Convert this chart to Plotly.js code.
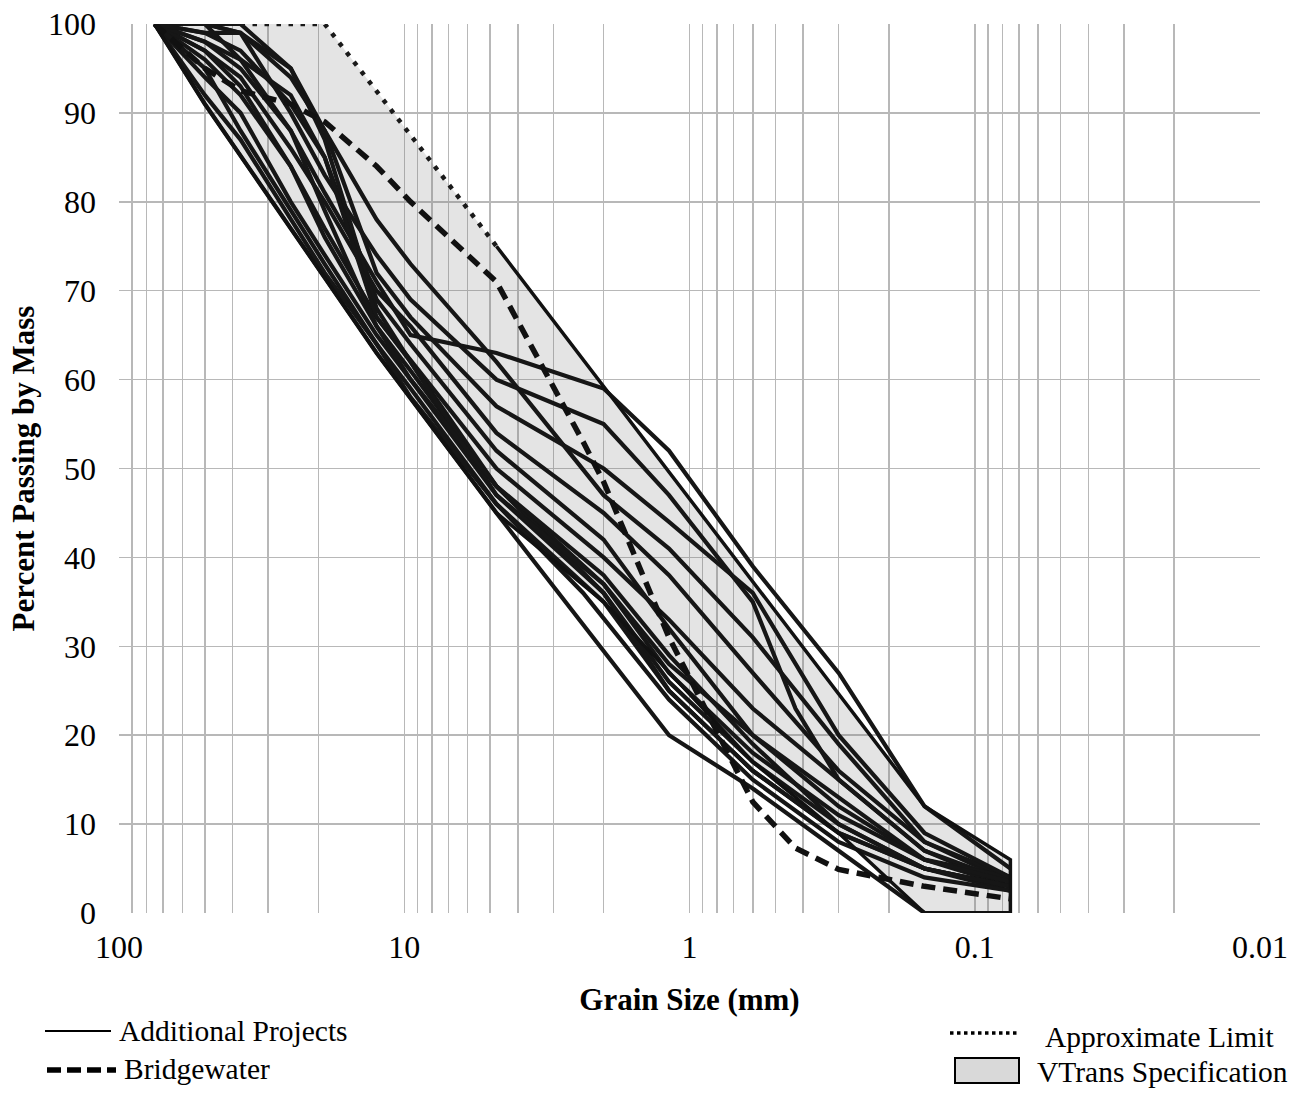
<!DOCTYPE html>
<html>
<head>
<meta charset="utf-8">
<script src="https://cdn.plot.ly/plotly-3.0.1.min.js"></script>
<style>
  html, body { margin: 0; padding: 0; background: #ffffff; }
  #chart { width: 1306px; height: 1095px; }
</style>
</head>
<body>
<div id="chart"></div>
<script>
// ---------------- DATA ----------------
// Sieve sizes (mm) used for the project gradations
const projSizes = [75, 50, 37.5, 25, 19, 12.5, 9.5, 4.75, 2.36, 2.0, 1.18, 0.85, 0.6, 0.425, 0.3, 0.15, 0.075];

// Percent passing for each additional project (null = sieve not reported)
const proj01 = [100, 91, null, null, null, 63, null, 45, null, null, 20, null, 14, null, 7, 0, 0];
const proj02 = [100, 98, 96, 88, 81, 71, 65, 63, null, 59, 52, null, 39, null, 27, 12, 5];
const proj03 = [100, 100, 100, 95, 88, 78, 73, 62, null, 47, 41, null, 31, null, 19, 8, 3.5];
const proj04 = [100, 100, 99, 90, 83, 74, 69, 60, null, 55, 47, null, 35, 23, 15, 7, 3];
const proj05 = [100, 97, 94, 86, 80, 70, 66, 54, null, 45, 38, null, 27, null, 16, 8, 4];
const proj06 = [100, 96, 92, 84, 77, 67, null, 50, null, 40, 33, null, 23, null, 15, 7, 3.5];
const proj07 = [100, 99, 97, 91, 85, 69, 64, 52, null, 42, 32, null, 20, null, 12, 6, 3];
const proj08 = [100, 94, 90, 80, 74, 65, 60, 47, null, 36, 26, null, 17, null, 10, 5, 3];
const proj09 = [100, 95, 88, 79, 73, 64, 59, 46, null, 35, 25, null, 16, null, 9, 5, 2.5];
const proj10 = [100, 97, 93, 84, 76, 66, 61, 48, null, 37, 27, null, 18, null, 11, 6, 4];
const proj11 = [100, 92, 87, 78, 72, 64, 58, 46, 36, null, 24, null, 15, null, 8, 4, 2.5];
const proj12 = [100, 100, 99, 95, 87, 68, 62, 48, null, 36, 25, null, 16, null, 9, 5, 3];
const proj13 = [100, 100, 96, 92, 85, 67, 62, 47, null, 37, 28, null, 20, null, 13, 6, 3.5];
const proj14 = [100, 98, 95, 88, 79, 66, 60, 48, null, 38, 29, null, 19, null, 10, 5, 3];
const proj15 = [100, 99, 99, 94, 88, 72, 67, 57, null, 50, 44, null, 36, null, 20, 9, 4];
const projects = [proj01, proj02, proj03, proj04, proj05, proj06, proj07, proj08,
                  proj09, proj10, proj11, proj12, proj13, proj14, proj15];

// Bridgewater gradation
const bwSizes = [75, 50, 37.5, 25, 19, 12.5, 9.5, 4.75, 2.36, 2.0, 1.18, 0.85, 0.6, 0.425, 0.3, 0.15, 0.075];
const bwPass  = [100, 95, 92.5, 91, 89, 84, 80, 71, 53, 48.5, 31, 22, 12.5, 7.3, 4.9, 3, 1.6];

// VTrans specification envelope
const specUpperSizes = [75, 19, 4.75, 0.15, 0.075];
const specUpperPass  = [100, 100, 75, 12, 6];
const specLowerSizes = [75, 50, 12.5, 4.75, 2.0, 0.6, 0.3, 0.15, 0.075];
const specLowerPass  = [100, 91, 63, 45, 35, 17, 9, 0, 0];

// Approximate limit (dotted)
const approxSizes = [37.5, 19, 4.75];
const approxPass  = [100, 100, 75];

// Axis ticks
const xDecades = [100, 10, 1, 0.1, 0.01];
const xDecadeLabels = ['100', '10', '1', '0.1', '0.01'];
const yTicks = [0, 10, 20, 30, 40, 50, 60, 70, 80, 90, 100];

// ---------------- BUILD ----------------
const FONT = '"Liberation Serif", "Times New Roman", Times, serif';

// minor log grid values (1..9 x each decade)
const gridVals = [], gridText = [];
[0.01, 0.1, 1, 10].forEach(d => {
  for (let k = 1; k <= 9; k++) {
    const v = +(d * k).toPrecision(3);
    gridVals.push(v);
    const idx = xDecades.indexOf(v);
    gridText.push(idx >= 0 ? xDecadeLabels[idx] : '');
  }
});
gridVals.push(100); gridText.push('100');

// Spec polygon: upper boundary then lower boundary reversed
const specPolyX = specUpperSizes.concat(specLowerSizes.slice().reverse());
const specPolyY = specUpperPass.concat(specLowerPass.slice().reverse());

// Spec outline (solid part): from 4.75 mm upper point clockwise around to 75 mm
const upStart = specUpperSizes.indexOf(4.75);
const outlineX = specUpperSizes.slice(upStart).concat(specLowerSizes.slice().reverse());
const outlineY = specUpperPass.slice(upStart).concat(specLowerPass.slice().reverse());

const traces = [];
traces.push({
  x: specPolyX, y: specPolyY, type: 'scatter', mode: 'lines',
  fill: 'toself', fillcolor: 'rgba(120,120,120,0.2)',
  line: { width: 0, color: 'rgba(0,0,0,0)' }, hoverinfo: 'skip', showlegend: false
});

projects.forEach((p, i) => {
  traces.push({
    x: projSizes, y: p, type: 'scatter', mode: 'lines', connectgaps: true,
    line: { color: '#161616', width: 4.2 }, showlegend: false, name: 'Additional Projects'
  });
});

traces.push({
  x: outlineX, y: outlineY, type: 'scatter', mode: 'lines',
  line: { color: '#111111', width: 3.5 }, showlegend: false, name: 'VTrans Specification'
});

traces.push({
  x: approxSizes, y: approxPass, type: 'scatter', mode: 'lines',
  line: { color: '#1a1a1a', width: 4.5, dash: '4.5px,7.5px' }, showlegend: false, name: 'Approximate Limit'
});

traces.push({
  x: bwSizes, y: bwPass, type: 'scatter', mode: 'lines',
  line: { color: '#111111', width: 5.5, dash: '14px,8px' }, showlegend: false, name: 'Bridgewater'
});

// Legend (drawn with paper-referenced shapes and annotations)
const L = 119, R = 1260, T = 24, B = 913;
const px = v => (v - L) / (R - L);
const py = v => (B - v) / (B - T);

const shapes = [
  { type: 'line', xref: 'paper', yref: 'paper', x0: px(45), x1: px(111), y0: py(1031), y1: py(1031),
    line: { color: '#000', width: 2 } },
  { type: 'line', xref: 'paper', yref: 'paper', x0: px(47), x1: px(116), y0: py(1070), y1: py(1070),
    line: { color: '#000', width: 5.5, dash: '14px,6px' } },
  { type: 'line', xref: 'paper', yref: 'paper', x0: px(950), x1: px(1019), y0: py(1033), y1: py(1033),
    line: { color: '#000', width: 3.5, dash: 'dot' } },
  { type: 'rect', xref: 'paper', yref: 'paper', x0: px(955), x1: px(1019), y0: py(1083), y1: py(1058),
    fillcolor: '#d9d9d9', line: { color: '#000', width: 2 } }
];

const annFont = { family: FONT, size: 29.5, color: '#000' };
const annotations = [
  { xref: 'paper', yref: 'paper', x: px(117), y: py(1031), text: 'Additional Projects',
    showarrow: false, xanchor: 'left', yanchor: 'middle', font: annFont },
  { xref: 'paper', yref: 'paper', x: px(122), y: py(1069), text: 'Bridgewater',
    showarrow: false, xanchor: 'left', yanchor: 'middle', font: annFont },
  { xref: 'paper', yref: 'paper', x: px(1043), y: py(1037), text: 'Approximate Limit',
    showarrow: false, xanchor: 'left', yanchor: 'middle', font: annFont },
  { xref: 'paper', yref: 'paper', x: px(1035), y: py(1072), text: 'VTrans Specification',
    showarrow: false, xanchor: 'left', yanchor: 'middle', font: annFont }
];

const layout = {
  width: 1306, height: 1095,
  margin: { l: 119, r: 46, t: 24, b: 182, pad: 0 },
  paper_bgcolor: '#ffffff', plot_bgcolor: '#ffffff',
  font: { family: FONT, color: '#000' },
  showlegend: false,
  xaxis: {
    type: 'log', range: [2, -2],
    tickmode: 'array', tickvals: gridVals, ticktext: gridText,
    showgrid: true, gridcolor: '#b8b8b8', gridwidth: 1.5,
    zeroline: false, showline: false, ticks: '',
    tickfont: { family: FONT, size: 32, color: '#000' },
    ticklabelstandoff: 12,
    title: { text: '<b>Grain Size (mm)</b>', font: { family: FONT, size: 31, color: '#000' }, standoff: 24 }
  },
  yaxis: {
    range: [0, 100], tickmode: 'array', tickvals: yTicks,
    showgrid: true, gridcolor: '#b8b8b8', gridwidth: 1.5,
    zeroline: false, showline: false, ticks: '',
    tickfont: { family: FONT, size: 32, color: '#000' },
    ticklabelstandoff: 22,
    title: { text: '<b>Percent Passing by Mass</b>', font: { family: FONT, size: 31, color: '#000' }, standoff: 4 }
  },
  shapes: shapes,
  annotations: annotations
};

Plotly.newPlot('chart', traces, layout, { displayModeBar: false, staticPlot: true });
</script>
</body>
</html>
